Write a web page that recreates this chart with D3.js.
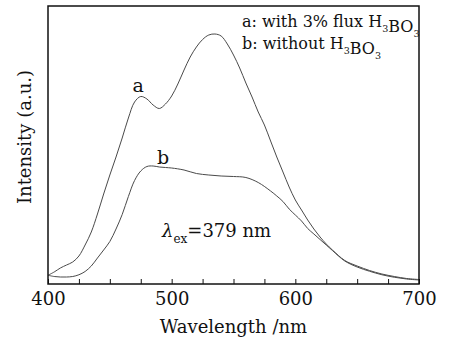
<!DOCTYPE html>
<html>
<head>
<meta charset="utf-8">
<script src="https://cdn.jsdelivr.net/npm/d3@7"></script>
<style>
  body { margin: 0; background: #fff; }
  text { font-family: "DejaVu Serif", "Liberation Serif", "Times New Roman", serif; fill: #111; }
</style>
</head>
<body>
<svg id="chart" width="449" height="338"></svg>
<script>
// wavelengths (nm)
const wavelengths = [400, 405, 410, 415, 420, 425, 430, 435, 440, 445, 450, 455, 460, 465, 470, 475,
  480, 485, 490, 495, 500, 505, 510, 515, 520, 525, 530, 535, 540, 545, 550, 555, 560, 565, 570,
  575, 580, 585, 590, 595, 600, 605, 610, 615, 620, 625, 630, 640, 650, 660, 670, 680, 690, 700];

// a: with 3% flux H3BO3
const seriesA = [35, 48, 64, 76, 88, 112, 156, 208, 280, 360, 436, 508, 584, 664, 728, 750,
  740, 716, 702, 720, 752, 800, 856, 908, 948, 978, 996, 1000, 992, 960, 916, 864, 804, 748, 688,
  636, 572, 508, 448, 388, 336, 296, 256, 220, 188, 160, 136, 94, 72, 54, 40, 30, 22, 18];

// b: without H3BO3 (own wavelength grid)
const wavelengthsB = [400, 405, 410, 415, 420, 425, 430, 435, 440, 445, 450, 455, 460, 465, 470, 475,
  480, 485, 490, 495, 500, 510, 520, 530, 540, 550, 560, 570, 580, 585, 590, 595, 600, 605, 610,
  615, 620, 625, 630, 640, 650, 660, 670, 680, 690, 700];
const seriesB = [35, 30, 28, 28, 30, 37, 50, 72, 104, 136, 170, 220, 278, 350, 414, 452,
  470, 472, 468, 466, 464, 456, 442, 436, 432, 430, 426, 406, 372, 352, 330, 300, 276, 252, 222,
  200, 178, 156, 134, 92, 68, 51, 37, 27, 20, 16];

const xTicks = [400, 500, 600, 700];

const margin = { top: 6, right: 30, bottom: 54, left: 48 };
const width = 449 - margin.left - margin.right;
const height = 338 - margin.top - margin.bottom;

const svg = d3.select("#chart")
  .append("g")
  .attr("transform", `translate(${margin.left},${margin.top})`);

const x = d3.scaleLinear().domain([400, 700]).range([0, width]);
const y = d3.scaleLinear().domain([0, 1112]).range([height, 0]);

const line = d3.line()
  .x(d => x(d[0]))
  .y(d => y(d[1]))
  .curve(d3.curveCatmullRom.alpha(0.5));

const dataA = wavelengths.map((w, i) => [w, seriesA[i]]);
const dataB = wavelengthsB.map((w, i) => [w, seriesB[i]]);

// curves
[dataA, dataB].forEach(d => {
  svg.append("path")
    .datum(d)
    .attr("fill", "none")
    .attr("stroke", "#4a4a4a")
    .attr("stroke-width", 1)
    .attr("d", line);
});

// bottom axis, ticks pointing inward
const xAxis = svg.append("g")
  .attr("transform", `translate(0,${height})`)
  .call(d3.axisBottom(x)
    .tickValues(d3.range(400, 701, 25))
    .tickSizeInner(-5)
    .tickSizeOuter(0)
    .tickFormat(d => xTicks.includes(d) ? d : ""));
xAxis.select(".domain").remove();
xAxis.selectAll(".tick line").attr("stroke", "#111");
xAxis.selectAll(".tick text")
  .attr("dy", "0")
  .attr("y", 21)
  .style("font-size", "18px");

// frame
svg.append("rect")
  .attr("width", width)
  .attr("height", height)
  .attr("fill", "none")
  .attr("stroke", "#111")
  .attr("stroke-width", 1.5);

// axis titles
svg.append("text")
  .attr("x", width / 2)
  .attr("y", height + 49)
  .attr("text-anchor", "middle")
  .style("font-size", "18px")
  .text("Wavelength /nm");

svg.append("text")
  .attr("transform", `translate(${-17},${height / 2 - 8}) rotate(-90)`)
  .attr("text-anchor", "middle")
  .style("font-size", "18px")
  .text("Intensity (a.u.)");

// curve labels
svg.append("text").attr("x", x(473)).attr("y", y(768)).attr("text-anchor", "middle")
  .style("font-size", "19px").text("a");
svg.append("text").attr("x", x(493)).attr("y", y(482)).attr("text-anchor", "middle")
  .style("font-size", "19px").text("b");

// legend text with subscripts
function subLabel(g, parts, size) {
  const t = g.append("text").style("font-size", size + "px");
  parts.forEach(p => {
    if (p.sub) {
      t.append("tspan").attr("dy", 5).style("font-size", (size * 0.6) + "px").text(p.s);
      t.append("tspan").attr("dy", -5).text("");
    } else {
      t.append("tspan").text(p.s);
    }
  });
  return t;
}

const leg = svg.append("g");
subLabel(leg, [{ s: "a: with 3% flux H" }, { s: "3", sub: true }, { s: "BO" }, { s: "3", sub: true }], 16)
  .attr("x", 194).attr("y", 21);
subLabel(leg, [{ s: "b: without H" }, { s: "3", sub: true }, { s: "BO" }, { s: "3", sub: true }], 16)
  .attr("x", 194).attr("y", 43);

// excitation label
const ex = svg.append("text").attr("x", 114).attr("y", 231).style("font-size", "18px");
ex.append("tspan").style("font-style", "italic").text("λ");
ex.append("tspan").attr("dy", 6).style("font-size", "12px").text("ex");
ex.append("tspan").attr("dy", -6).text("=379 nm");
</script>
</body>
</html>
